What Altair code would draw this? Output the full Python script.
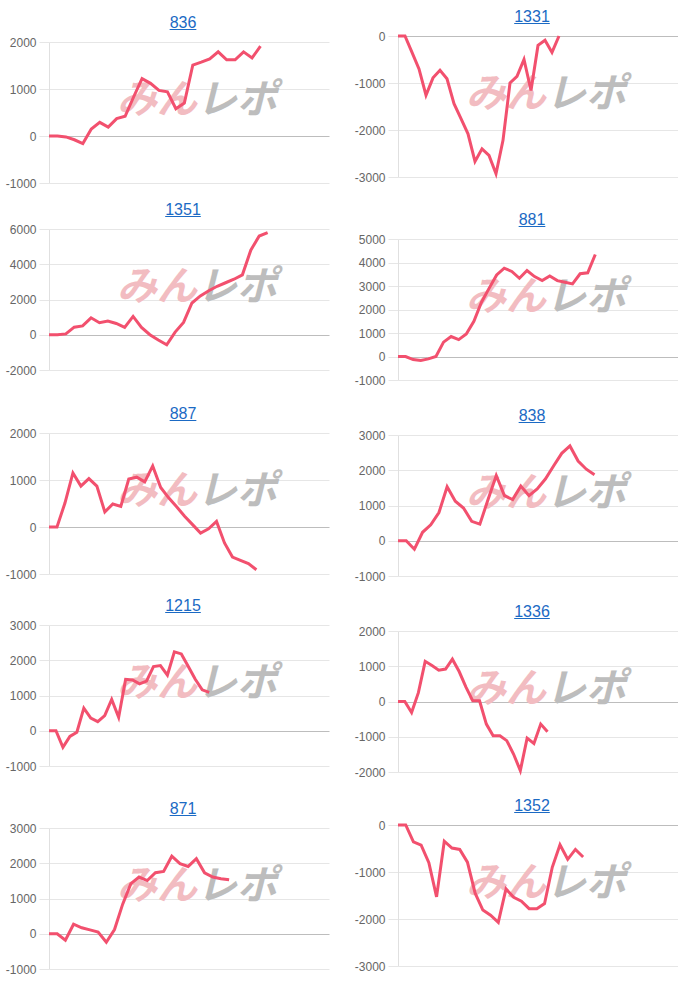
import altair as alt
import pandas as pd

names = ["836", "1331", "1351", "881", "887", "838", "1215", "1336", "871", "1352"]

v836 = [0, 0, -20, -80, -160, 150, 290, 190, 370, 420, 830, 1220, 1120, 970, 940,
        580, 700, 1510, 1570, 1640, 1790, 1620, 1620, 1790, 1660, 1910]
v1331 = [0, 0, -350, -700, -1260, -890, -730, -910, -1440, -1760, -2080, -2670,
         -2400, -2540, -2930, -2220, -1000, -860, -500, -1160, -200, -90, -350, 0]
v1351 = [0, 0, 50, 430, 500, 960, 680, 780, 640, 420, 1040, 420, 0, -300, -570,
         150, 700, 1800, 2200, 2500, 2750, 2950, 3150, 3400, 4800, 5600, 5800]
v881 = [0, 0, -130, -170, -100, 0, 610, 850, 720, 960, 1500, 2310, 2900, 3470,
        3760, 3620, 3330, 3660, 3400, 3230, 3430, 3230, 3160, 3090, 3520, 3560, 4340]
v887 = [0, 0, 510, 1150, 870, 1030, 870, 320, 490, 440, 1020, 1060, 960, 1300,
        840, 620, 430, 230, 50, -130, -40, 120, -340, -640, -710, -780, -910]
v838 = [0, 0, -240, 240, 450, 800, 1530, 1120, 930, 550, 470, 1170, 1850, 1280,
        1170, 1550, 1280, 1470, 1750, 2120, 2480, 2690, 2260, 2030, 1870]
v1215 = [0, 0, -470, -160, -40, 640, 360, 260, 430, 890, 380, 1460, 1440, 1330,
         1410, 1820, 1850, 1580, 2240, 2180, 1820, 1460, 1160, 1090]
v1336 = [0, 0, -310, 250, 1140, 1020, 890, 920, 1200, 850, 410, 20, 20, -640,
         -970, -970, -1110, -1490, -1960, -1040, -1190, -640, -860]
v871 = [0, 0, -180, 270, 170, 110, 50, -240, 120, 840, 1420, 1610, 1510, 1730,
        1770, 2200, 1990, 1910, 2130, 1730, 1610, 1560, 1530]
v1352 = [0, 0, -360, -430, -800, -1530, -345, -490, -520, -790, -1450, -1810,
         -1920, -2070, -1360, -1540, -1620, -1780, -1780, -1670, -900, -420, -730,
         -520, -680]

series = [v836, v1331, v1351, v881, v887, v838, v1215, v1336, v871, v1352]

# y-axis ranges and tick steps per panel
y_lo = [-1000, -3000, -2000, -1000, -1000, -1000, -1000, -2000, -1000, -3000]
y_hi = [2000, 0, 6000, 5000, 2000, 3000, 3000, 2000, 3000, 0]
y_step = [1000, 1000, 2000, 1000, 1000, 1000, 1000, 1000, 1000, 1000]
# number of x slots spanned by the plot width
x_span = [33.1, 40.0, 33.3, 36.9, 35.1, 34.2, 40.2, 41.2, 34.2, 36.3]

W = 280
PH = 141
row_h = [196, 196, 196, 196, 198]
top_off = [42, 36, 33, 43, 41, 43, 37, 43, 44, 41]

LINE = "#f2506e"
LINK = "#1b6ac4"
FONT = "Liberation Sans"


def panel(i):
    name = names[i]
    vals = series[i]
    off = top_off[i]
    H = row_h[i // 2]
    df = pd.DataFrame({"g": list(range(len(vals))), "v": vals})
    ticks = list(range(y_lo[i], y_hi[i] + 1, y_step[i]))

    base = alt.Chart(df)
    line = base.mark_line(color=LINE, strokeWidth=3, clip=False).encode(
        x=alt.X("g:Q", scale=alt.Scale(domain=[0, x_span[i]], nice=False, zero=True), axis=None),
        y=alt.Y(
            "v:Q",
            scale=alt.Scale(domain=[y_lo[i], y_hi[i]], range=[off + PH, off], nice=False, zero=False),
            axis=alt.Axis(
                values=ticks, title=None,
                labelExpr="'' + datum.value",
                labelFont=FONT, labelFontSize=12, labelColor="#666666", labelPadding=3,
                tickSize=10, tickColor="#e6e6e6",
                domain=True, domainColor="#e0e0e0",
                grid=True,
                gridColor=alt.condition("datum.value === 0", alt.value("#bdbdbd"), alt.value("#e6e6e6")),
                minExtent=49, maxExtent=49,
            ),
        ),
    )

    tdf = pd.DataFrame({"name": [name]})
    cx = W / 2 - 6
    tw = len(name) * 8.9
    title = alt.Chart(tdf).mark_text(
        font=FONT, fontSize=16, color=LINK, align="center", baseline="alphabetic"
    ).encode(text="name:N", x=alt.value(cx), y=alt.value(off - 14.5))
    underline = alt.Chart(tdf).mark_rule(color=LINK, strokeWidth=1).encode(
        x=alt.value(cx - tw / 2), x2=alt.value(cx + tw / 2), y=alt.value(off - 12.5)
    )

    wdf = pd.DataFrame({"a": ["みん"], "b": ["レポ"]})
    wm1 = alt.Chart(wdf).mark_text(
        font="Noto Sans CJK JP", fontSize=40, fontWeight="bold", fontStyle="italic",
        color="#f2bcc1", align="right", baseline="middle"
    ).encode(text="a:N", x=alt.value(148), y=alt.value(off + 59))
    wm2 = alt.Chart(wdf).mark_text(
        font="Noto Sans CJK JP", fontSize=40, fontWeight="bold", fontStyle="italic",
        color="#bdbdbd", align="left", baseline="middle"
    ).encode(text="b:N", x=alt.value(148), y=alt.value(off + 59))

    return alt.layer(wm1, wm2, line, title, underline).properties(width=W, height=H)


panels = [panel(i) for i in range(10)]

chart = alt.concat(*panels, columns=2, spacing={"row": 0, "column": 20}).properties(
    padding={"left": 0, "top": 0, "right": 0, "bottom": 0}
).configure_view(stroke=None)

chart.save("out.html", embed_options={"renderer": "svg", "actions": False})
